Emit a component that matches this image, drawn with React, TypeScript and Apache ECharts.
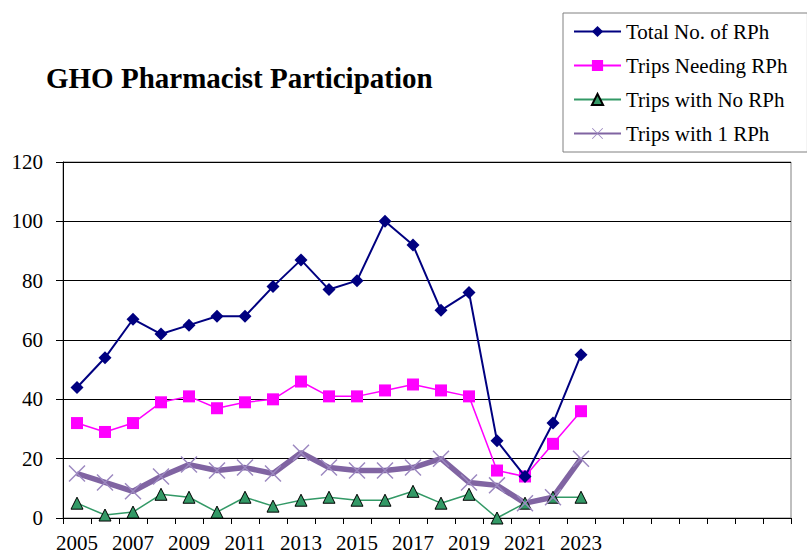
import React, { useEffect, useRef } from "react";
import * as echarts from "echarts";

const years = [
  "2005", "2006", "2007", "2008", "2009", "2010", "2011", "2012", "2013", "2014",
  "2015", "2016", "2017", "2018", "2019", "2020", "2021", "2022", "2023",
];
// empty slots that the axis keeps after the last year
const emptySlots = ["", "", "", "", "", "", ""];
const categories = [...years, ...emptySlots];

const totalRPh = [44, 54, 67, 62, 65, 68, 68, 78, 87, 77, 80, 100, 92, 70, 76, 26, 14, 32, 55];
const tripsNeedingRPh = [32, 29, 32, 39, 41, 37, 39, 40, 46, 41, 41, 43, 45, 43, 41, 16, 14, 25, 36];
const tripsNoRPh = [5, 1, 2, 8, 7, 2, 7, 4, 6, 7, 6, 6, 9, 5, 8, 0, 5, 7, 7];
const tripsOneRPh = [15, 12, 9, 14, 18, 16, 17, 15, 22, 17, 16, 16, 17, 20, 12, 11, 5, 7, 20];

const yTicks = { min: 0, max: 120, interval: 20 };

const seriesNames = [
  "Total No. of RPh",
  "Trips Needing RPh",
  "Trips with No RPh",
  "Trips with 1 RPh",
];

const FONT = "Liberation Serif, Times New Roman, serif";
const crossPath =
  "path://M0,1.2 L1.2,0 L20,18.8 L18.8,20 Z M18.8,0 L20,1.2 L1.2,20 L0,18.8 Z";

export default function App() {
  const ref = useRef<HTMLDivElement>(null);

  useEffect(() => {
    if (!ref.current) return;
    const chart = echarts.init(ref.current, undefined, { renderer: "svg" });
    chart.setOption({
      animation: false,
      backgroundColor: "#ffffff",
      title: {
        text: "GHO Pharmacist Participation",
        left: 46,
        top: 63,
        padding: 0,
        textStyle: {
          fontFamily: FONT,
          fontWeight: "bold",
          fontSize: 29,
          color: "#000000",
        },
      },
      legend: {
        orient: "vertical",
        left: 563,
        top: 13,
        padding: [8, 20, 8, 10],
        itemGap: 13,
        itemWidth: 47,
        itemHeight: 14,
        borderColor: "#808080",
        borderWidth: 1,
        data: seriesNames,
        textStyle: {
          fontFamily: FONT,
          fontSize: 21,
          color: "#000000",
          lineHeight: 21,
          padding: [0, 0, 0, 0],
        },
      },
      grid: {
        left: 63,
        right: 16,
        top: 162,
        bottom: 34,
        show: true,
        borderColor: "#808080",
        borderWidth: 1,
      },
      xAxis: {
        type: "category",
        data: categories,
        boundaryGap: true,
        axisLine: { lineStyle: { color: "#000000", width: 1 } },
        axisTick: {
          show: true,
          length: 6,
          interval: 0,
          lineStyle: { color: "#000000" },
        },
        axisLabel: {
          interval: 1,
          margin: 14,
          fontFamily: FONT,
          fontSize: 21,
          color: "#000000",
        },
        splitLine: { show: false },
      },
      yAxis: {
        type: "value",
        min: yTicks.min,
        max: yTicks.max,
        interval: yTicks.interval,
        axisLine: { show: true, lineStyle: { color: "#000000", width: 1 } },
        axisTick: { show: true, length: 7, lineStyle: { color: "#000000" } },
        axisLabel: {
          margin: 20,
          fontFamily: FONT,
          fontSize: 21,
          color: "#000000",
        },
        splitLine: { show: true, lineStyle: { color: "#000000", width: 1 } },
      },
      series: [
        {
          name: seriesNames[0],
          type: "line",
          data: totalRPh,
          symbol: "diamond",
          symbolSize: 13,
          lineStyle: { color: "#000080", width: 2 },
          itemStyle: { color: "#000080" },
          z: 4,
        },
        {
          name: seriesNames[1],
          type: "line",
          data: tripsNeedingRPh,
          symbol: "rect",
          symbolSize: 12,
          lineStyle: { color: "#FF00FF", width: 1.5 },
          itemStyle: { color: "#FF00FF" },
          z: 3,
        },
        {
          name: seriesNames[2],
          type: "line",
          data: tripsNoRPh,
          symbol: "triangle",
          symbolSize: 12,
          lineStyle: { color: "#339966", width: 1.5 },
          itemStyle: { color: "#339966", borderColor: "#000000", borderWidth: 1 },
          z: 2,
        },
        {
          name: seriesNames[3],
          type: "line",
          data: tripsOneRPh,
          symbol: crossPath,
          symbolSize: 17,
          lineStyle: { color: "#8064A2", width: 5.5 },
          itemStyle: { color: "#9C88C0" },
          z: 2,
        },
      ],
    });
    return () => chart.dispose();
  }, []);

  return (
    <div
      ref={ref}
      style={{ position: "fixed", left: 0, top: 0, width: 807, height: 553 }}
    />
  );
}
